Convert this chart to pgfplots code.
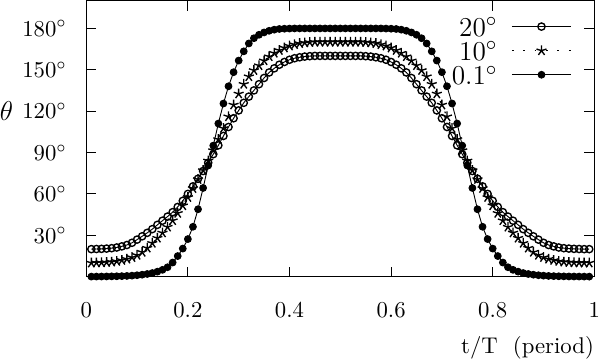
\documentclass[border=0pt]{standalone}
\usepackage{pgfplots}
\pgfplotsset{compat=1.18}
\usepackage{pgfplotstable}

% t, theta for 20 deg, 10 deg, 0.1 deg
\pgfplotstableread{
t a b c
0.01 20.0 10.0 0.11
0.02 20.1 10.1 0.13
0.03 20.2 10.2 0.17
0.04 20.4 10.4 0.22
0.05 20.7 10.7 0.28
0.06 21.2 11.2 0.35
0.07 22.0 11.9 0.45
0.08 23.0 12.8 0.6
0.09 24.6 14.0 0.8
0.10 26.9 15.6 1.1
0.11 29.3 17.8 1.5
0.12 31.8 20.8 2.0
0.13 34.5 24.3 2.7
0.14 37.6 28.0 3.7
0.15 40.6 31.8 5.0
0.16 43.6 36.0 6.9
0.17 46.8 40.7 10.3
0.18 50.6 46.0 15.0
0.19 55.0 51.5 20.4
0.20 60.0 57.5 27.3
0.21 65.5 64.0 36.2
0.22 71.0 70.5 48.9
0.23 76.6 77.0 64.3
0.24 82.6 84.0 80.6
0.25 88.8 91.5 95.0
0.26 95.2 99.5 111.0
0.27 102.0 107.5 125.5
0.28 108.5 116.0 138.0
0.29 114.8 124.5 148.2
0.30 120.5 132.5 156.6
0.31 126.0 139.5 163.3
0.32 130.5 145.0 169.0
0.33 135.0 149.5 172.8
0.34 139.5 153.0 175.3
0.35 144.0 156.5 177.0
0.36 148.0 159.5 178.2
0.37 151.0 162.0 179.0
0.38 153.6 164.0 179.5
0.39 155.6 165.8 179.7
0.40 157.2 167.2 179.8
0.41 158.3 168.2 179.9
0.42 159.0 169.0 179.9
0.43 159.5 169.5 179.9
0.44 159.8 169.8 179.9
0.45 160.0 170.0 179.9
0.46 160.0 170.0 179.9
0.47 160.0 170.0 179.9
0.48 160.0 170.0 179.9
0.49 160.0 170.0 179.9
0.50 160.0 170.0 179.9
0.51 160.0 170.0 179.9
0.52 160.0 170.0 179.9
0.53 160.0 170.0 179.9
0.54 160.0 170.0 179.9
0.55 159.8 169.8 179.9
0.56 159.5 169.5 179.9
0.57 159.0 169.0 179.9
0.58 158.3 168.2 179.9
0.59 157.2 167.2 179.8
0.60 155.6 165.8 179.7
0.61 153.6 164.0 179.5
0.62 151.0 162.0 179.0
0.63 148.0 159.5 178.2
0.64 144.0 156.5 177.0
0.65 139.5 153.0 175.3
0.66 135.0 149.5 172.8
0.67 130.5 145.0 169.0
0.68 126.0 139.5 163.3
0.69 120.5 132.5 156.6
0.70 114.8 124.5 148.2
0.71 108.5 116.0 138.0
0.72 102.0 107.5 125.5
0.73 95.2 99.5 111.0
0.74 88.8 91.5 95.0
0.75 82.6 84.0 80.6
0.76 76.6 77.0 64.3
0.77 71.0 70.5 48.9
0.78 65.5 64.0 36.2
0.79 60.0 57.5 27.3
0.80 55.0 51.5 20.4
0.81 50.6 46.0 15.0
0.82 46.8 40.7 10.3
0.83 43.6 36.0 6.9
0.84 40.6 31.8 5.0
0.85 37.6 28.0 3.7
0.86 34.5 24.3 2.7
0.87 31.8 20.8 2.0
0.88 29.3 17.8 1.5
0.89 26.9 15.6 1.1
0.90 24.6 14.0 0.8
0.91 23.0 12.8 0.6
0.92 22.0 11.9 0.45
0.93 21.2 11.2 0.35
0.94 20.7 10.7 0.28
0.95 20.4 10.4 0.22
0.96 20.2 10.2 0.17
0.97 20.1 10.1 0.13
0.98 20.0 10.0 0.11
0.99 20.0 10.0 0.10
}\thetadata

\begin{document}
\begin{tikzpicture}
\begin{axis}[
    scale only axis,
    width=223.6pt, height=121.5pt,
    xmin=0, xmax=1, ymin=0, ymax=200,
    xtick={0,0.2,0.4,0.6,0.8,1},
    ytick={30,60,90,120,150,180},
    yticklabel={$\pgfmathprintnumber{\tick}^\circ$},
    xticklabel style={inner xsep=0pt, yshift=-7.8pt},
    yticklabel style={xshift=-5pt},
    tick align=inside, tick pos=both,
    major tick length=4.5pt,
    tick style={line width=0.5pt, black},
    axis line style={line width=0.6pt},
    xlabel={t/T~~(period)},
    every axis x label/.style={at={(rel axis cs:1,0)}, anchor=north east, inner sep=0pt, yshift=-26pt},
    ylabel={\large$\theta$},
    every axis y label/.style={at={(ticklabel cs:0.6)}, anchor=east, inner sep=0pt, xshift=-0.5pt},
    legend plot pos=right,
    legend cell align=right,
    legend image code/.code={\draw[mark repeat=2, mark phase=2, #1] plot coordinates {(0pt,0pt) (13pt,0pt) (26pt,0pt)};},
    legend style={draw=none, fill=none, at={(rel axis cs:1,1)}, anchor=north east,
        xshift=-9.8pt, yshift=-5.7pt, inner sep=0pt,
        font=\fontsize{13}{14}\selectfont,
        row sep=-0.4pt, column sep=5.6pt,
        nodes={inner sep=0.5pt, text height=9.5pt, text depth=0.5pt}},
]
\addplot[black, line width=0.4pt, mark=o, mark size=1.6pt, mark options={line width=0.6pt}] table[x=t, y=a] {\thetadata};
\addlegendentry{$20^\circ$}
\addplot[black, line width=0.5pt, dash pattern=on 0.8pt off 4.2pt, mark=star, mark size=2.3pt, mark options={solid, line width=0.6pt}] table[x=t, y=b] {\thetadata};
\addlegendentry{$10^\circ$}
\addplot[black, line width=0.4pt, mark=*, mark size=1.5pt] table[x=t, y=c] {\thetadata};
\addlegendentry{$0.1^\circ$}
\end{axis}
\end{tikzpicture}
\end{document}
